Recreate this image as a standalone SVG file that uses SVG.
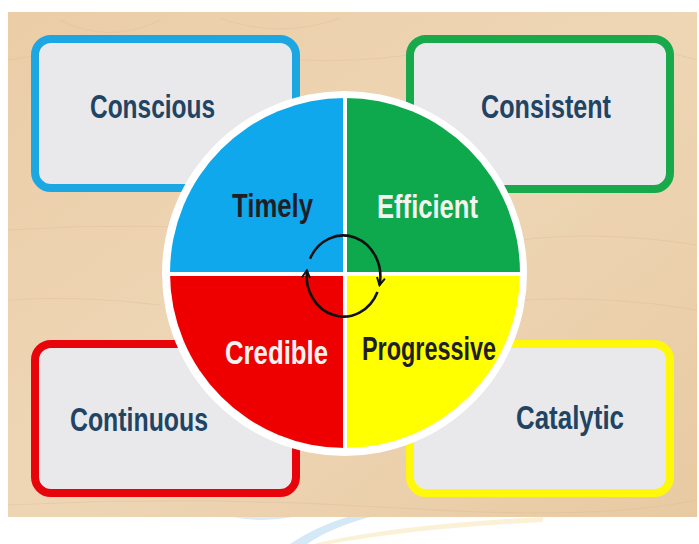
<svg xmlns="http://www.w3.org/2000/svg" width="699" height="544" viewBox="0 0 699 544">
  <style>
    .box { stroke-width: 8; }
    .boxtxt { font-family: "Liberation Sans", Arial, sans-serif; font-weight: bold; font-size: 33px; fill: #1F4464; }
    .qtxt { font-family: "Liberation Sans", Arial, sans-serif; font-weight: bold; font-size: 33px; }
    .dark { fill: #1E1E26; }
    .light { fill: #F3F3F0; }
    .grain { fill: none; stroke: #D9B88E; stroke-width: 1; opacity: 0.35; }
    .arrow { fill: none; stroke: #111; stroke-width: 2.6; marker-end: url(#chev); }
  </style>
  <defs>
    <linearGradient id="wood" x1="0" y1="0" x2="1" y2="1">
      <stop offset="0" stop-color="#EBCDA7"/>
      <stop offset="0.5" stop-color="#EED6B5"/>
      <stop offset="1" stop-color="#E8CAA2"/>
    </linearGradient>
    <marker id="chev" viewBox="0 0 10 10" refX="8.5" refY="5" markerWidth="10" markerHeight="10" markerUnits="userSpaceOnUse" orient="auto">
      <path d="M1,1 L8.5,5 L1,9" fill="none" stroke="#111" stroke-width="2"/>
    </marker>
  </defs>

  <rect width="699" height="544" fill="#FFFFFF"/>
  <!-- faint watermark below -->
  <path d="M233,517 Q262,523 293,517 Z" fill="#BFDDF0" opacity="0.6"/>
  <path d="M347,517 L370,517 Q330,528 307,544 L290,544 Q315,527 347,517 Z" fill="#C9E3F3" opacity="0.8"/>
  <path d="M543,517 L543,522 Q420,528 330,544 L313,544 Q400,524 543,517 Z" fill="#F8EBC4" opacity="0.7"/>

  <!-- wood background -->
  <rect x="8" y="12" width="689" height="505" fill="url(#wood)"/>
  <g>
    <path class="grain" d="M8,60 Q120,40 240,55 T460,45 T697,60"/>
    <path class="grain" d="M8,230 Q150,220 300,235"/>
    <path class="grain" d="M520,240 Q600,230 697,245"/>
    <path class="grain" d="M520,300 Q610,295 697,310"/>
    <path class="grain" d="M8,300 Q80,295 160,305"/>
    <path class="grain" d="M8,505 Q200,495 400,508 T697,500"/>
    <path class="grain" d="M60,20 Q110,45 160,20"/>
    <path class="grain" d="M220,18 Q280,40 340,18"/>
  </g>

  <g id="node-conscious">
    <rect class="box" x="35" y="39" width="261" height="149" rx="16" fill="#E9E9EB" stroke="#1CA7E2"/>
    <text class="boxtxt" x="90" y="118" textLength="125" lengthAdjust="spacingAndGlyphs">Conscious</text>
  </g>
  <g id="node-consistent">
    <rect class="box" x="410" y="39" width="260" height="150" rx="16" fill="#E9E9EB" stroke="#18A94B"/>
    <text class="boxtxt" x="481" y="118" textLength="130" lengthAdjust="spacingAndGlyphs">Consistent</text>
  </g>
  <g id="node-continuous">
    <rect class="box" x="35" y="344" width="261" height="149" rx="16" fill="#E9E9EB" stroke="#E8040B"/>
    <text class="boxtxt" x="70" y="431" textLength="138" lengthAdjust="spacingAndGlyphs">Continuous</text>
  </g>
  <g id="node-catalytic">
    <rect class="box" x="410" y="344" width="260" height="149" rx="16" fill="#E9E9EB" stroke="#FFF80A"/>
    <text class="boxtxt" x="516" y="429" textLength="108" lengthAdjust="spacingAndGlyphs">Catalytic</text>
  </g>

  <g id="node-wheel">
    <circle cx="344.5" cy="273.5" r="182.5" fill="#FFFFFF"/>
    <path d="M345,273 L170,273 A175,175 0 0 1 345,98 Z" fill="#0FA8EC"/>
    <path d="M345,273 L345,98 A175,175 0 0 1 520,273 Z" fill="#0DA94C"/>
    <path d="M345,273 L520,273 A175,175 0 0 1 345,448 Z" fill="#FFFF00"/>
    <path d="M345,273 L345,448 A175,175 0 0 1 170,273 Z" fill="#EE0000"/>
    <line x1="345" y1="96" x2="345" y2="450" stroke="#FFFFFF" stroke-width="4"/>
    <line x1="166" y1="274" x2="524" y2="274" stroke="#FFFFFF" stroke-width="4"/>
  </g>
  <g id="node-timely">
    <text class="qtxt dark" x="232" y="217" textLength="81" lengthAdjust="spacingAndGlyphs">Timely</text>
  </g>
  <g id="node-efficient">
    <text class="qtxt light" x="377" y="218" textLength="101" lengthAdjust="spacingAndGlyphs">Efficient</text>
  </g>
  <g id="node-credible">
    <text class="qtxt light" x="225" y="364" textLength="103" lengthAdjust="spacingAndGlyphs">Credible</text>
  </g>
  <g id="node-progressive">
    <text class="qtxt dark" x="362" y="360" textLength="134" lengthAdjust="spacingAndGlyphs">Progressive</text>
  </g>

  <g id="connectors">
    <path class="arrow" d="M310,258.7 A37,41 0 0 1 379.5,285.2"/>
    <path class="arrow" d="M377.5,292 A37,41 0 0 1 306.9,270.3"/>
  </g>
</svg>
